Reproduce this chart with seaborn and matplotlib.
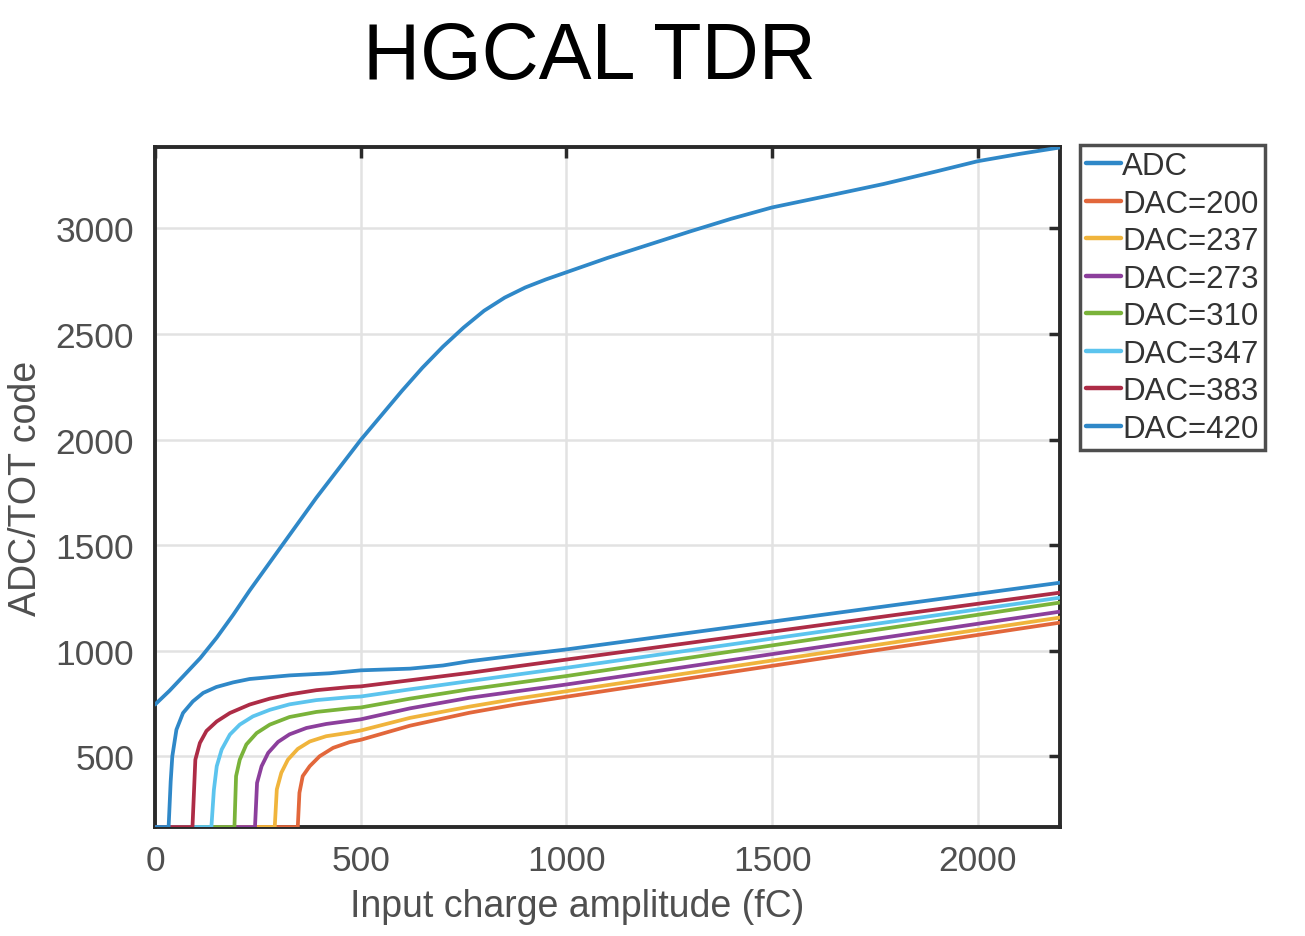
import numpy as np
import pandas as pd
import matplotlib
matplotlib.use("Agg")
import matplotlib.pyplot as plt
import seaborn as sns

# ADC response (fC -> code)
adc_x = [0, 35, 68, 110, 150, 190, 230, 310, 392, 500, 600, 650, 700, 750, 800,
         850, 900, 950, 1000, 1100, 1180, 1300, 1400, 1500, 1650, 1771, 1900,
         2000, 2100, 2200]
adc_y = [745, 810, 878, 965, 1062, 1170, 1285, 1502, 1724, 1998, 2230, 2340,
         2440, 2530, 2610, 2672, 2720, 2758, 2792, 2860, 2910, 2985, 3045, 3099,
         3160, 3210, 3270, 3318, 3352, 3383]

# TOT response for each threshold DAC setting
dac200_x = [0, 347, 351, 359, 376, 400, 433, 473, 500, 620, 764, 880, 1000, 2200]
dac200_y = [165, 165, 327, 406, 453, 500, 540, 567, 578, 645, 706, 746, 782, 1133]

dac237_x = [0, 291, 296, 307, 323, 347, 376, 416, 473, 500, 620, 764, 880, 1000,
            2200]
dac237_y = [165, 165, 343, 422, 484, 535, 570, 595, 612, 622, 682, 735, 773, 808,
            1157]

dac273_x = [0, 243, 248, 259, 275, 299, 327, 368, 416, 473, 500, 620, 764, 880,
            1000, 2200]
dac273_y = [165, 165, 374, 453, 516, 568, 604, 634, 653, 668, 675, 727, 777, 808,
            840, 1185]

dac310_x = [0, 193, 197, 206, 222, 247, 279, 327, 392, 473, 500, 620, 764, 880,
            1000, 2200]
dac310_y = [165, 165, 406, 484, 556, 610, 650, 686, 710, 727, 731, 773, 817, 848,
            880, 1228]

dac347_x = [0, 137, 143, 150, 162, 182, 206, 238, 279, 327, 392, 473, 500, 620,
            764, 880, 1000, 2200]
dac347_y = [165, 165, 340, 453, 532, 603, 650, 689, 720, 746, 766, 780, 783, 817,
            856, 887, 919, 1251]

dac383_x = [0, 91, 98, 109, 125, 150, 182, 230, 279, 327, 392, 473, 500, 620, 764,
            880, 1000, 2200]
dac383_y = [165, 165, 484, 563, 620, 665, 705, 745, 773, 793, 813, 828, 831, 860,
            895, 926, 958, 1275]

dac420_x = [0, 33, 38, 42, 52, 68, 92, 117, 149, 190, 230, 327, 424, 500, 620,
            700, 764, 880, 1000, 2200]
dac420_y = [165, 165, 380, 500, 626, 705, 760, 800, 828, 850, 866, 883, 893, 907,
            915, 930, 950, 978, 1006, 1322]

series_names = ["ADC", "DAC=200", "DAC=237", "DAC=273", "DAC=310", "DAC=347",
                "DAC=383", "DAC=420"]
series_x = [adc_x, dac200_x, dac237_x, dac273_x, dac310_x, dac347_x, dac383_x, dac420_x]
series_y = [adc_y, dac200_y, dac237_y, dac273_y, dac310_y, dac347_y, dac383_y, dac420_y]

x_ticks = [0, 500, 1000, 1500, 2000]
y_ticks = [500, 1000, 1500, 2000, 2500, 3000]

colors = ["#2f88c8", "#e2673b", "#f0b43c", "#8c3f9c", "#7ab33a", "#5cc4ee",
          "#ad2c46", "#2f88c8"]

frames = []
for name, xs, ys in zip(series_names, series_x, series_y):
    frames.append(pd.DataFrame({"charge": xs, "code": ys, "series": name}))
df = pd.concat(frames, ignore_index=True)

sns.set_theme(style="whitegrid")
plt.rcParams["font.family"] = ["Liberation Sans", "DejaVu Sans"]

fig = plt.figure(figsize=(13.05, 9.37), dpi=100)
ax = fig.add_axes([0.1188, 0.1163, 0.8123 - 0.1188, 0.842 - 0.1163])

sns.lineplot(data=df, x="charge", y="code", hue="series", hue_order=series_names,
             palette=dict(zip(series_names, colors)), estimator=None, sort=False,
             linewidth=2.7, ax=ax, legend=True, zorder=3)

ax.set_xlim(0, 2200)
ax.set_ylim(165, 3385)
ax.set_xticks(x_ticks)
ax.set_yticks(y_ticks)

ax.grid(True, color="#e2e2e2", linewidth=1.8)
ax.set_facecolor("white")
for sp in ax.spines.values():
    sp.set_color("#2a2a2a")
    sp.set_linewidth(2.8)
    sp.set_visible(True)

ax.tick_params(axis="both", direction="in", top=True, right=True, length=8,
               width=2.5, color="#2a2a2a", labelsize=25.5, labelcolor="#4f4f4f",
               pad=12)
ax.tick_params(axis="y", pad=15)

ax.set_xlabel("Input charge amplitude (fC)", fontsize=27, color="#4f4f4f",
              labelpad=8)
ax.xaxis.label.set_x(0.466)
ax.set_ylabel("ADC/TOT code", fontsize=27, color="#4f4f4f", labelpad=8)

leg = ax.legend(loc="upper left", bbox_to_anchor=(0.8276, 0.844),
                bbox_transform=fig.transFigure, fontsize=22.5, frameon=True,
                fancybox=False, handlelength=1.1, handletextpad=0.05,
                labelspacing=0.24, borderpad=0.2, borderaxespad=0)
leg.get_frame().set_edgecolor("#222222")
leg.get_frame().set_linewidth(2.5)
for t in leg.get_texts():
    t.set_color("#333333")
for h in leg.get_lines():
    h.set_linewidth(3.2)

fig.text(0.452, 0.938, "HGCAL TDR", fontsize=57, ha="center", va="center",
         color="black")

fig.savefig("out.png", dpi=100)
